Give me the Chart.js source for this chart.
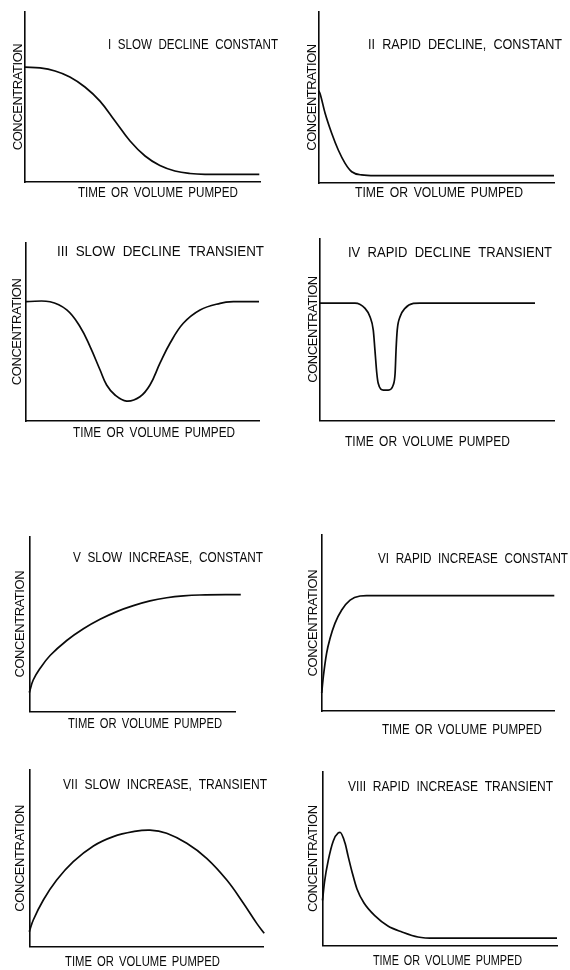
<!DOCTYPE html>
<html><head><meta charset="utf-8">
<script src="https://cdn.jsdelivr.net/npm/chart.js@4/dist/chart.umd.min.js"></script>
<style>
html,body{margin:0;padding:0;background:#fff;width:570px;height:970px;overflow:hidden}
body{position:relative}
canvas{position:absolute}
</style></head><body>
<script>
// ---------- DATA ----------
const panelTitles = [
  "I SLOW DECLINE CONSTANT",
  "II RAPID DECLINE, CONSTANT",
  "III SLOW DECLINE TRANSIENT",
  "IV RAPID DECLINE TRANSIENT",
  "V SLOW INCREASE, CONSTANT",
  "VI RAPID INCREASE CONSTANT",
  "VII SLOW INCREASE, TRANSIENT",
  "VIII RAPID INCREASE TRANSIENT"
];
const yAxisLabel = "CONCENTRATION";
const xAxisLabel = "TIME OR VOLUME PUMPED";

const xI = [0, 6.4, 12.8, 19.1, 25.5, 31.9, 38.3, 44.7, 51.1, 57.4, 63.8, 70.2, 76.6, 99.7];
const yI = [67.6, 67.1, 65.3, 61.8, 55.9, 47.6, 35.9, 24.1, 15.3, 9.7, 6.5, 5, 4.5, 4.5];

const xII = [0, 0.6, 2.8, 5.6, 8.4, 11.3, 14.1, 18.3, 24, 100];
const yII = [54, 52.5, 40.8, 29.1, 19.3, 11.5, 6.6, 4.7, 4.3, 4.3];

const xIII = [0, 10.3, 17.5, 23.2, 27.5, 31.8, 34.6, 38.2, 43.2, 48.9, 53.2, 57.5, 61.8, 67.5, 74.7, 83.3, 89, 100];
const yIII = [66.9, 66.9, 62.3, 52.9, 41.7, 28.6, 20.2, 14.6, 11.2, 13.6, 20.2, 32.4, 43.6, 54.8, 62.3, 66, 66.9, 66.9];

const xIV = [0, 15.2, 19.5, 21.6, 23, 23.7, 24.5, 25.1, 27.3, 29.4, 31.5, 32.3, 32.7, 33.2, 34.4, 36.5, 40.1, 42.9, 91.9];
const yIV = [64.5, 64.5, 61.6, 57, 49.7, 38.8, 26, 20.5, 16.8, 16.8, 19.6, 26, 38.8, 49.7, 57, 61.6, 64.3, 64.5, 64.5];

const xV = [0, 1.9, 5.2, 10.1, 18.2, 26.3, 34.4, 42.5, 50.6, 58.7, 66.8, 74.9, 82.9, 102.8];
const yV = [10.9, 18.1, 24.7, 32.1, 40.7, 47.4, 52.8, 57.2, 60.6, 63.3, 65.1, 66.2, 66.7, 66.9];

const xVI = [0, 0.7, 2.1, 3.6, 5.7, 8.6, 12.2, 16.5, 19.3, 100];
const yVI = [10.4, 19.6, 32.9, 41.4, 49.9, 57.5, 63.1, 65.4, 65.6, 65.6];

const xVII = [0, 1.7, 6, 11.7, 18.8, 27.4, 35.9, 44.4, 51.6, 58.7, 67.3, 75.8, 84.4, 91.5, 97.2, 100.4];
const yVII = [8.5, 15.1, 26.4, 37.7, 48.1, 57, 62.3, 65.1, 66, 64.2, 58.5, 50, 37.7, 24.6, 13.2, 7.6];

const xVIII = [0, 0.85, 2.5, 4.6, 6.7, 7.5, 9.6, 10.9, 12.6, 14.7, 17.7, 22.4, 27.9, 33.9, 40.7, 48, 100];
const yVIII = [26, 36.6, 49.3, 60.2, 64.8, 65.1, 59, 51.6, 42.4, 32.6, 24.5, 17.1, 11.3, 7.9, 5, 4.3, 4.3];

const seriesX = [xI, xII, xIII, xIV, xV, xVI, xVII, xVIII];
const seriesY = [yI, yII, yIII, yIV, yV, yVI, yVII, yVIII];

// ---------- LAYOUT / STYLE (page pixels) ----------
const canvases = [
  [0, 0, 285, 215], [285, 0, 285, 215],
  [0, 225, 285, 235], [285, 225, 285, 235],
  [0, 520, 285, 225], [285, 520, 285, 225],
  [0, 755, 285, 215], [285, 755, 285, 215]
];
const plots = [
  [25, 12, 260, 182], [318.5, 12, 554, 183],
  [26, 242.7, 259, 421], [319.3, 238.3, 554, 420.7],
  [29.3, 536.7, 235, 711.7], [321.7, 535, 554.3, 711.3],
  [29.3, 770, 263.3, 946.7], [322.5, 771.7, 557, 945.7]
];
const yLabX = [18, 312, 17, 313, 20, 313.3, 20, 313.3];
// x label: [centre x, centre y, width]
const xLabPos = [
  [158, 193.3, 160], [439, 193.3, 168],
  [154, 433.3, 162], [427.5, 441.7, 165],
  [145, 724, 154], [462, 730, 160],
  [142.5, 961.7, 155], [447.5, 960.7, 149]
];
// title: [left x, centre y, right x]
const titlePos = [
  [108, 45, 278], [368, 45, 562],
  [57, 252.3, 264], [348, 253.3, 552],
  [73, 558.3, 263], [378, 559.3, 568],
  [63, 785, 267], [348, 787.3, 553]
];
const smoothMode = ['default', 'monotone', 'default', 'monotone', 'default', 'monotone', 'default', 'monotone'];

const FAMILY = '"Liberation Sans", Arial, sans-serif';
const FS = 13;      // native axis title
const FS_TXT = 14;  // panel titles and x labels (condensed)
const LH = FS;      // lineHeight 1
const INK = '#0a0a0a';

// draw text condensed horizontally so it spans the given width
function fitText(ctx, text, x, y, width, align, ws) {
  ctx.save();
  if ('letterSpacing' in ctx) ctx.letterSpacing = '0px';
  if ('wordSpacing' in ctx) ctx.wordSpacing = ws + 'px';
  ctx.textAlign = 'left';
  const w = ctx.measureText(text).width;
  const sx = Math.max(0.7, Math.min(1.2, width / w));
  const left = align === 'center' ? x - (w * sx) / 2 : x;
  ctx.translate(left, y);
  ctx.scale(sx, 1);
  ctx.fillText(text, 0, 0);
  ctx.restore();
}

const textPlugin = {
  id: 'panelText',
  beforeDraw(chart) {
    if ('letterSpacing' in chart.ctx) chart.ctx.letterSpacing = '-0.45px';
  },
  afterDraw(chart, args, o) {
    const ctx = chart.ctx;
    ctx.save();
    ctx.font = FS_TXT + 'px ' + FAMILY;
    ctx.fillStyle = INK;
    ctx.textBaseline = 'middle';
    fitText(ctx, o.title, o.tx, o.ty, o.tw, 'left', 4);
    fitText(ctx, o.xlab, o.xx, o.xy, o.xw, 'center', 2.5);
    ctx.restore();
  }
};

seriesX.forEach((xs, i) => {
  const [cl, ct, cw, ch] = canvases[i];
  const [L, T, R, B] = plots[i];
  const cv = document.createElement('canvas');
  cv.width = cw; cv.height = ch;
  cv.style.left = cl + 'px'; cv.style.top = ct + 'px';
  cv.style.width = cw + 'px'; cv.style.height = ch + 'px';
  document.body.appendChild(cv);

  const yPadBottom = (L - yLabX[i]) - LH / 2;
  const padLeft = (L - cl) - (LH + yPadBottom);
  const pts = xs.map((x, k) => ({ x: x, y: seriesY[i][k] }));
  const tp = titlePos[i], xp = xLabPos[i];

  new Chart(cv, {
    type: 'line',
    data: { datasets: [{
      data: pts, borderColor: INK, borderWidth: 1.7, pointRadius: 0,
      fill: false, tension: 0.4, cubicInterpolationMode: smoothMode[i],
      capBezierPoints: false, clip: false
    }]},
    options: {
      responsive: false, animation: false, events: [],
      layout: { padding: { left: padLeft, top: T - ct, right: (cl + cw) - R, bottom: (ct + ch) - B } },
      plugins: {
        legend: { display: false }, tooltip: { enabled: false },
        panelText: {
          title: panelTitles[i], tx: tp[0] - cl, ty: tp[1] - ct, tw: tp[2] - tp[0],
          xlab: xAxisLabel, xx: xp[0] - cl, xy: xp[1] - ct, xw: xp[2]
        }
      },
      scales: {
        x: {
          type: 'linear', min: 0, max: 100,
          grid: { display: false, drawTicks: false },
          ticks: { display: false },
          border: { display: true, color: INK, width: 1.6 },
          title: { display: false }
        },
        y: {
          type: 'linear', min: 0, max: 100,
          grid: { display: false, drawTicks: false },
          ticks: { display: false },
          border: { display: true, color: INK, width: 1.6 },
          title: { display: true, text: yAxisLabel, color: INK,
                   font: { family: FAMILY, size: FS, lineHeight: 1 },
                   padding: { top: 0, bottom: yPadBottom } }
        }
      }
    },
    plugins: [textPlugin]
  });
});
</script>
</body></html>
